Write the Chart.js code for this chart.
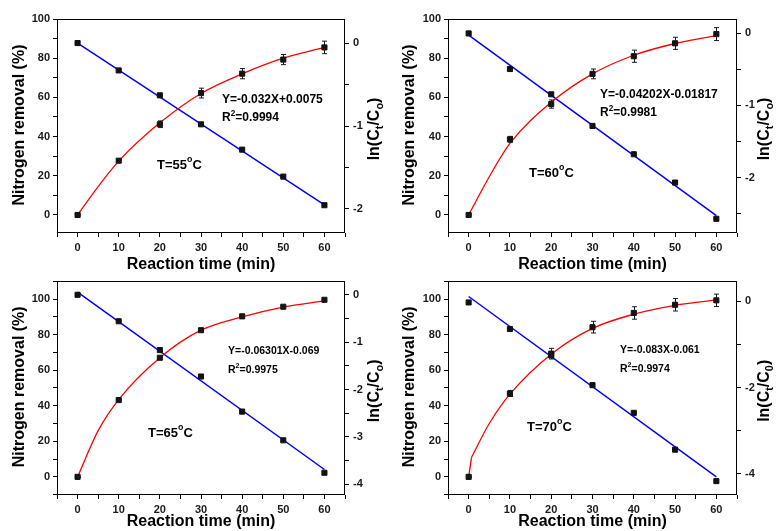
<!DOCTYPE html>
<html>
<head>
    <meta charset="UTF-8">
    <title>Nitrogen removal and ln(Ct/C0) vs reaction time</title>
    <script src="https://cdn.jsdelivr.net/npm/chart.js"></script>
    <style>
        body { margin: 0; background: #fff; }
        #figure { position: relative; width: 778px; height: 531px; overflow: hidden; background: #fff; }
        #figure canvas { position: absolute; }
    </style>
</head>
<body>
<div id="figure">
    <canvas id="c55" width="389" height="280" style="left:0;top:0"></canvas>
    <canvas id="c60" width="389" height="280" style="left:389px;top:0"></canvas>
    <canvas id="c65" width="389" height="261" style="left:0;top:270px"></canvas>
    <canvas id="c70" width="389" height="261" style="left:389px;top:270px"></canvas>
</div>

<script>
    // values
    const times = [0, 10, 20, 30, 40, 50, 60];
    const fitTimes = [0, 60];
    const curveTimes = [0, 5, 10, 20, 30, 40, 50, 60];
    const curveTimes70 = [0.7, 5, 10, 20, 30, 40, 50, 60];
    const leadTimes70 = [0, 0.7];

    const removal55 = [0, 27.7, 46.3, 62.2, 72.1, 79.3, 85.5];
    const removalErr55 = [0.5, 0.8, 1.7, 2.5, 2.6, 2.6, 3.2];
    const lnRatio55 = [0, -0.33, -0.63, -0.98, -1.285, -1.61, -1.955];
    const lnFit55 = [0.0, -1.95];
    const curve55 = [0, 14.5, 27.5, 47, 62, 72, 80, 85.5];

    const removal60 = [0, 38.6, 56.6, 72, 81, 87.6, 92.3];
    const removalErr60 = [0.5, 1.5, 2.1, 2.5, 3.1, 3.1, 3.3];
    const lnRatio60 = [0, -0.494, -0.845, -1.284, -1.677, -2.07, -2.573];
    const lnFit60 = [-0.023, -2.53];
    const curve60 = [0, 19.5, 36.5, 57.5, 72, 81.5, 87.5, 91.5];

    const removal65 = [0, 43.2, 67, 82.5, 90.3, 95.7, 99.6];
    const removalErr65 = [0.3, 0.5, 0.5, 0.5, 0.5, 0.5, 0.5];
    const lnRatio65 = [0, -0.558, -1.166, -1.724, -2.464, -3.07, -3.755];
    const lnFit65 = [0.056, -3.686];
    const curve65 = [0, 26, 43.5, 67, 82.5, 90, 95.5, 99];

    const removal70 = [0, 46.9, 69.3, 84.2, 92.2, 96.8, 99.3];
    const removalErr70 = [0.3, 1.7, 3, 3.3, 3.5, 3.5, 3.5];
    const lnRatio70 = [-0.023, -0.64, -1.254, -1.946, -2.59, -3.446, -4.177];
    const lnFit70 = [0.115, -4.077];
    const curve70 = [11, 30, 46.5, 69, 83.5, 91.5, 96.5, 99.5];
    const lead70 = [0, 11];

    const FONT = 'Arial, "Liberation Sans", Helvetica, sans-serif';
    Chart.defaults.font.family = FONT;

    // box: [left axis width, right axis width, top padding, x axis height]
    const panels = [
        { id: 'c55', removal: removal55, err: removalErr55, ln: lnRatio55, fit: lnFit55, cx: curveTimes, cy: curve55,
          yMin: -9.2, yMax: 100, rMin: -2.29, rMax: 0.29, rStep: 0.5, rLabel: 1, box: [57, 44, 19, 47],
          rTitle: 'ln(C_{t}/C_{o})', eq: 'Y=-0.032X+0.0075', r2: 'R^{2}=0.9994', eqAt: [222, 100, 118], eqSize: 12,
          temp: 'T=55^{o}C', tempAt: [157, 165], xTitleY: 265, yTitleX: 20, rTitleX: 375 },
        { id: 'c60', removal: removal60, err: removalErr60, ln: lnRatio60, fit: lnFit60, cx: curveTimes, cy: curve60,
          yMin: -9.2, yMax: 100, rMin: -2.77, rMax: 0.2, rStep: 0.5, rLabel: 1, box: [59, 41, 19, 47],
          rTitle: 'ln(C_{t}/C_{o})', eq: 'Y=-0.04202X-0.01817', r2: 'R^{2}=0.9981', eqAt: [211, 95, 113], eqSize: 12,
          temp: 'T=60^{o}C', tempAt: [140, 173], xTitleY: 265, yTitleX: 21, rTitleX: 376 },
        { id: 'c65', removal: removal65, err: removalErr65, ln: lnRatio65, fit: lnFit65, cx: curveTimes, cy: curve65,
          yMin: -10.2, yMax: 110.4, rMin: -4.224, rMax: 0.3, rStep: 0.5, rLabel: 1, box: [57, 44, 9, 36],
          rTitle: 'ln(C_{t}/C_{o})', eq: 'Y=-0.06301X-0.069', r2: 'R^{2}=0.9975', eqAt: [228, 81, 100], eqSize: 10.5,
          temp: 'T=65^{o}C', tempAt: [148, 163], xTitleY: 252, yTitleX: 20, rTitleX: 375 },
        { id: 'c70', removal: removal70, err: removalErr70, ln: lnRatio70, fit: lnFit70, cx: curveTimes70, cy: curve70,
          leadX: leadTimes70, leadY: lead70,
          yMin: -10.2, yMax: 110.4, rMin: -4.5, rMax: 0.485, rStep: 1, rLabel: 2, box: [59, 41, 9, 36],
          rTitle: 'ln(C_{t}/C_{0})', eq: 'Y=-0.083X-0.061', r2: 'R^{2}=0.9974', eqAt: [231, 80, 99], eqSize: 10.5,
          temp: 'T=70^{o}C', tempAt: [138, 157], xTitleY: 252, yTitleX: 21, rTitleX: 376 }
    ];

    function stepTicks(min, max, step) {
        const out = [];
        for (let k = Math.ceil(min / step - 1e-9); k * step <= max + 1e-9; k++) {
            out.push({ value: Math.round(k * step * 1000) / 1000 });
        }
        return out;
    }

    function isMultiple(v, m) {
        return Math.abs(v / m - Math.round(v / m)) < 1e-6;
    }

    // "ln(C_{t}/C_{o})" -> pieces with sub/superscripts
    function parseRich(str) {
        const parts = [];
        const re = /([_^])\{([^}]*)\}/g;
        let last = 0, m;
        while ((m = re.exec(str))) {
            if (m.index > last) parts.push({ t: str.slice(last, m.index), s: null });
            parts.push({ t: m[2], s: m[1] === '_' ? 'sub' : 'sup' });
            last = re.lastIndex;
        }
        if (last < str.length) parts.push({ t: str.slice(last), s: null });
        return parts;
    }

    function drawRich(ctx, str, x, y, size, align, rotate) {
        const parts = parseRich(str);
        ctx.save();
        ctx.translate(x, y);
        if (rotate) ctx.rotate(-Math.PI / 2);
        ctx.fillStyle = '#000';
        ctx.textBaseline = 'middle';
        ctx.textAlign = 'left';
        let total = 0;
        parts.forEach(p => {
            p.size = p.s ? size * 0.68 : size;
            ctx.font = 'bold ' + p.size + 'px ' + FONT;
            p.w = ctx.measureText(p.t).width;
            total += p.w;
        });
        let cx = align === 'center' ? -total / 2 : 0;
        parts.forEach(p => {
            ctx.font = 'bold ' + p.size + 'px ' + FONT;
            const dy = p.s === 'sub' ? size * 0.3 : (p.s === 'sup' ? -size * 0.38 : 0);
            ctx.fillText(p.t, cx, dy);
            cx += p.w;
        });
        ctx.restore();
    }

    const decor = {
        id: 'decor',
        afterDatasetsDraw(chart) {
            const ctx = chart.ctx;
            const ys = chart.scales.y;
            ctx.save();
            ctx.strokeStyle = '#1a1a1a';
            ctx.lineWidth = 1;
            chart.data.datasets.forEach((ds, i) => {
                if (!ds.errors) return;
                chart.getDatasetMeta(i).data.forEach((pt, j) => {
                    const v = ds.data[j].y, e = ds.errors[j];
                    const top = ys.getPixelForValue(v + e);
                    const bot = ys.getPixelForValue(v - e);
                    const x = Math.round(pt.x) + 0.5;
                    ctx.beginPath();
                    ctx.moveTo(x, top); ctx.lineTo(x, bot);
                    ctx.moveTo(x - 2.5, top); ctx.lineTo(x + 2.5, top);
                    ctx.moveTo(x - 2.5, bot); ctx.lineTo(x + 2.5, bot);
                    ctx.stroke();
                });
            });
            ctx.restore();
        },
        afterDraw(chart, args, o) {
            const ctx = chart.ctx;
            const a = chart.chartArea;
            ctx.save();
            ctx.strokeStyle = '#000';
            ctx.lineWidth = 1;
            ctx.strokeRect(Math.round(a.left) + 0.5, Math.round(a.top) + 0.5,
                Math.round(a.right - a.left) - 1, Math.round(a.bottom - a.top) - 1);
            ctx.restore();
            const midY = (a.top + a.bottom) / 2;
            drawRich(ctx, 'Reaction time (min)', (a.left + a.right) / 2, o.xTitleY, 16, 'center', false);
            drawRich(ctx, 'Nitrogen removal (%)', o.yTitleX, midY - 1, 16, 'center', true);
            drawRich(ctx, o.rTitle, o.rTitleX, midY + 3, 16, 'center', true);
            drawRich(ctx, o.eq, o.eqAt[0], o.eqAt[1], o.eqSize, 'left', false);
            drawRich(ctx, o.r2, o.eqAt[0], o.eqAt[2], o.eqSize, 'left', false);
            drawRich(ctx, o.temp, o.tempAt[0], o.tempAt[1], 13, 'left', false);
        }
    };

    const tickFont = { size: 11, weight: 'bold' };
    const gridOpts = { drawOnChartArea: false, drawTicks: true, tickLength: 4, tickColor: '#000', color: '#000' };

    function buildChart(p) {
        const pts = (xs, ys) => xs.map((x, i) => ({ x: x, y: ys[i] }));
        const datasets = [
            {
                data: pts(times, p.removal), yAxisID: 'y', errors: p.err,
                pointStyle: 'rect', pointRadius: 3.6, backgroundColor: '#111', borderColor: '#111',
                borderWidth: 1, order: 0
            },
            {
                data: pts(times, p.ln), yAxisID: 'y2',
                pointStyle: 'rect', pointRadius: 3.6, backgroundColor: '#111', borderColor: '#111',
                borderWidth: 1, order: 0
            },
            {
                data: pts(p.cx, p.cy), yAxisID: 'y', showLine: true, pointRadius: 0,
                borderColor: '#ff0000', borderWidth: 1.3, cubicInterpolationMode: 'monotone', order: 1
            },
            {
                data: pts(fitTimes, p.fit), yAxisID: 'y2', showLine: true, pointRadius: 0,
                borderColor: '#0000ff', borderWidth: 1.5, order: 1
            }
        ];
        if (p.leadX) {
            // steep straight start of the fitted curve at 70 °C
            datasets.push({
                data: pts(p.leadX, p.leadY), yAxisID: 'y', showLine: true, pointRadius: 0,
                borderColor: '#ff0000', borderWidth: 1.3, order: 1
            });
        }
        new Chart(document.getElementById(p.id), {
            type: 'scatter',
            data: { datasets: datasets },
            options: {
                responsive: false,
                devicePixelRatio: 1,
                animation: false,
                layout: { padding: { top: p.box[2], left: 0, right: 0, bottom: 0 } },
                scales: {
                    x: {
                        type: 'linear', min: -5, max: 65, bounds: 'data',
                        afterBuildTicks: s => { s.ticks = stepTicks(-5, 65, 5); },
                        afterFit: s => { s.height = p.box[3]; },
                        ticks: {
                            autoSkip: false, maxRotation: 0, padding: 4, color: '#1a1a1a', font: tickFont,
                            callback: v => (isMultiple(v, 10) && v >= 0 && v <= 60) ? String(v) : ''
                        },
                        grid: gridOpts,
                        border: { display: false }
                    },
                    y: {
                        type: 'linear', position: 'left', min: p.yMin, max: p.yMax, bounds: 'data',
                        afterBuildTicks: s => { s.ticks = stepTicks(p.yMin, p.yMax, 10); },
                        afterFit: s => { s.width = p.box[0]; },
                        ticks: {
                            autoSkip: false, padding: 3, color: '#1a1a1a', font: tickFont,
                            callback: v => (isMultiple(v, 20) && v >= 0 && v <= 100) ? String(v) : ''
                        },
                        grid: gridOpts,
                        border: { display: false }
                    },
                    y2: {
                        type: 'linear', position: 'right', min: p.rMin, max: p.rMax, bounds: 'data',
                        afterBuildTicks: s => { s.ticks = stepTicks(p.rMin, p.rMax, p.rStep); },
                        afterFit: s => { s.width = p.box[1]; },
                        ticks: {
                            autoSkip: false, padding: 4, color: '#1a1a1a', font: tickFont,
                            callback: v => isMultiple(v, p.rLabel) ? String(Math.round(v)) : ''
                        },
                        grid: gridOpts,
                        border: { display: false }
                    }
                },
                plugins: {
                    legend: { display: false },
                    tooltip: { enabled: false },
                    decor: p
                }
            },
            plugins: [decor]
        });
    }

    panels.forEach(buildChart);
</script>
</body>
</html>
